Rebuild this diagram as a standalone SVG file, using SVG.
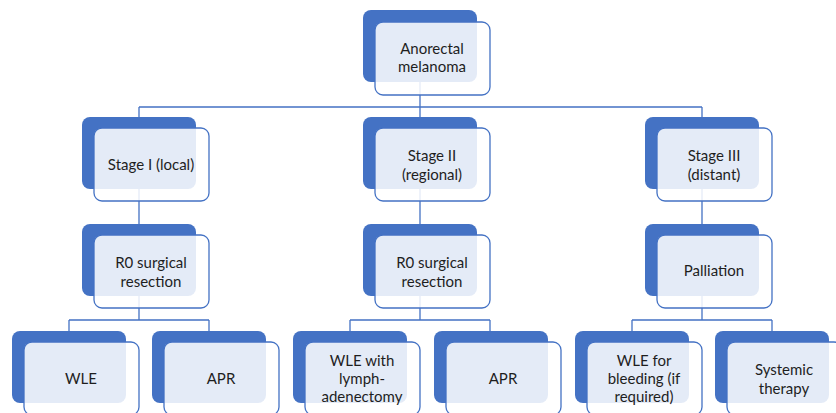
<svg xmlns="http://www.w3.org/2000/svg" width="836" height="413" viewBox="0 0 836 413">
<style>
.bk{fill:#4472c4;}
.fr{fill:#ffffff;fill-opacity:0.86;stroke:#4472c4;stroke-width:1.3;}
.cn{fill:none;stroke:#4472c4;stroke-width:1.3;}
text{font-family:Lato,"Open Sans","Liberation Sans",sans-serif;font-size:15px;fill:#1e1e1e;text-anchor:middle;}
</style>
<rect width="836" height="413" fill="#ffffff"/>
<g id="connectors">
<path class="cn" d="M420,82V107M139,107H702M139,107V117M420,107V117M702,107V117"/>
<path class="cn" d="M139,189V224M420,189V224M702,189V224"/>
<path class="cn" d="M139,296V320M69,320H209M69,320V331M209,320V331"/>
<path class="cn" d="M420,296V320M350,320H490M350,320V331M490,320V331"/>
<path class="cn" d="M702,296V320M632,320H772M632,320V331M772,320V331"/>
</g>
<g id="n-root"><rect class="bk" x="363" y="10" width="114" height="72" rx="8"/><rect class="fr" x="375" y="22" width="115" height="73" rx="8"/><text x="432" y="54">Anorectal</text><text x="432" y="72">melanoma</text></g>
<g id="n-stage1"><rect class="bk" x="82" y="117" width="114" height="72" rx="8"/><rect class="fr" x="94" y="128" width="115" height="73" rx="8"/><text x="151" y="170">Stage I (local)</text></g>
<g id="n-stage2"><rect class="bk" x="363" y="117" width="114" height="72" rx="8"/><rect class="fr" x="375" y="128" width="115" height="73" rx="8"/><text x="432" y="161">Stage II</text><text x="432" y="180">(regional)</text></g>
<g id="n-stage3"><rect class="bk" x="645" y="117" width="114" height="72" rx="8"/><rect class="fr" x="657" y="128" width="115" height="73" rx="8"/><text x="714" y="161">Stage III</text><text x="714" y="180">(distant)</text></g>
<g id="n-r0a"><rect class="bk" x="82" y="224" width="114" height="72" rx="8"/><rect class="fr" x="94" y="235" width="115" height="73" rx="8"/><text x="151" y="268">R0 surgical</text><text x="151" y="287">resection</text></g>
<g id="n-r0b"><rect class="bk" x="363" y="224" width="114" height="72" rx="8"/><rect class="fr" x="375" y="235" width="115" height="73" rx="8"/><text x="432" y="268">R0 surgical</text><text x="432" y="287">resection</text></g>
<g id="n-pall"><rect class="bk" x="645" y="224" width="114" height="72" rx="8"/><rect class="fr" x="657" y="235" width="115" height="73" rx="8"/><text x="714" y="276">Palliation</text></g>
<g id="n-wle1"><rect class="bk" x="12" y="331" width="114" height="72" rx="8"/><rect class="fr" x="24" y="342" width="115" height="73" rx="8"/><text x="81" y="384">WLE</text></g>
<g id="n-apr1"><rect class="bk" x="152" y="331" width="114" height="72" rx="8"/><rect class="fr" x="164" y="342" width="115" height="73" rx="8"/><text x="221" y="384">APR</text></g>
<g id="n-wle2"><rect class="bk" x="293" y="331" width="114" height="72" rx="8"/><rect class="fr" x="305" y="342" width="115" height="73" rx="8"/><text x="362" y="366">WLE with</text><text x="362" y="384">lymph-</text><text x="362" y="402">adenectomy</text></g>
<g id="n-apr2"><rect class="bk" x="434" y="331" width="114" height="72" rx="8"/><rect class="fr" x="446" y="342" width="115" height="73" rx="8"/><text x="503" y="384">APR</text></g>
<g id="n-wle3"><rect class="bk" x="575" y="331" width="114" height="72" rx="8"/><rect class="fr" x="587" y="342" width="115" height="73" rx="8"/><text x="644" y="366">WLE for</text><text x="644" y="384">bleeding (if</text><text x="644" y="402">required)</text></g>
<g id="n-sys"><rect class="bk" x="715" y="331" width="114" height="72" rx="8"/><rect class="fr" x="727" y="342" width="115" height="73" rx="8"/><text x="784" y="375">Systemic</text><text x="784" y="394">therapy</text></g>
</svg>
